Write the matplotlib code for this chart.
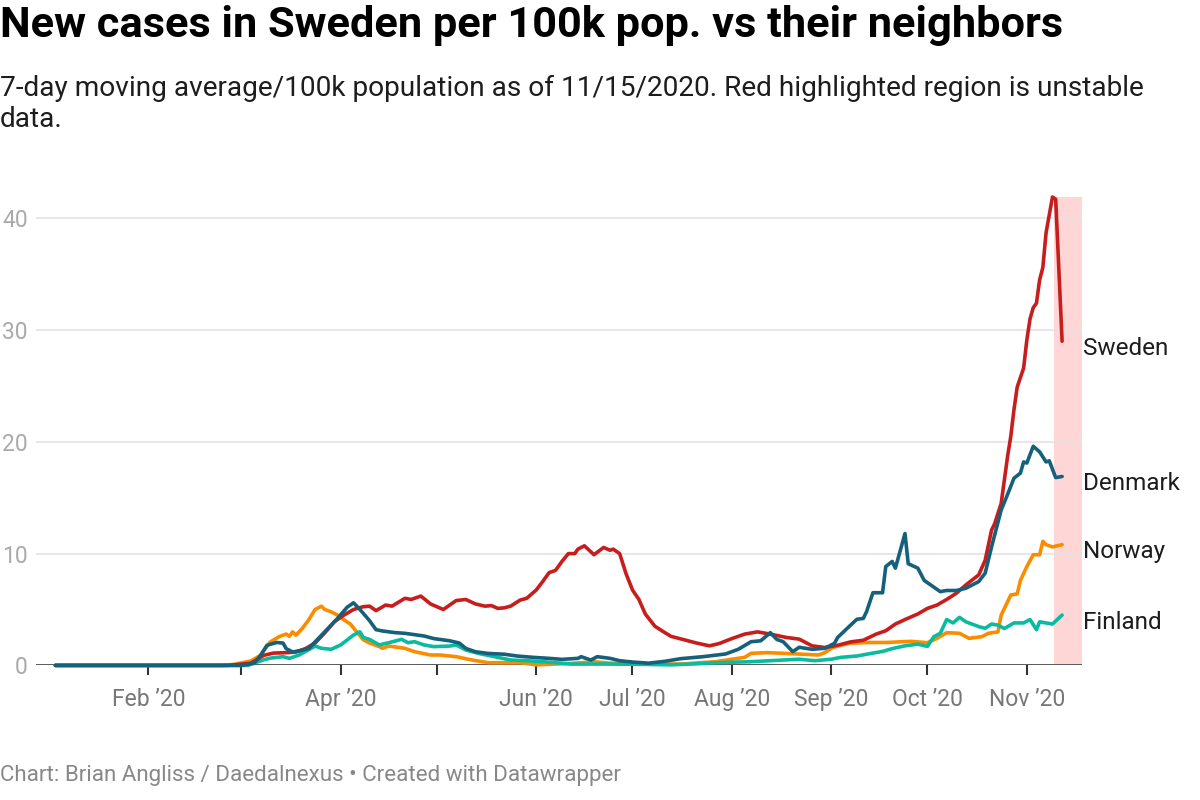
import matplotlib
matplotlib.use("Agg")
import matplotlib.pyplot as plt
import matplotlib.dates as mdates
import matplotlib.transforms as mtransforms
import pandas as pd

# ---------------- data (7-day avg new cases per 100k) ----------------
sweden_dates = ["2020-01-03","2020-02-26","2020-03-04","2020-03-08","2020-03-11","2020-03-16","2020-03-18","2020-03-21","2020-03-24","2020-03-27","2020-03-30","2020-04-02","2020-04-05","2020-04-08","2020-04-10","2020-04-12","2020-04-15","2020-04-17","2020-04-21","2020-04-23","2020-04-26","2020-04-29","2020-05-03","2020-05-07","2020-05-10","2020-05-13","2020-05-16","2020-05-18","2020-05-20","2020-05-22","2020-05-24","2020-05-27","2020-05-29","2020-06-01","2020-06-03","2020-06-05","2020-06-07","2020-06-09","2020-06-11","2020-06-13","2020-06-14","2020-06-16","2020-06-19","2020-06-22","2020-06-24","2020-06-25","2020-06-27","2020-06-29","2020-07-01","2020-07-03","2020-07-05","2020-07-08","2020-07-11","2020-07-13","2020-07-17","2020-07-21","2020-07-25","2020-07-28","2020-08-01","2020-08-05","2020-08-09","2020-08-13","2020-08-18","2020-08-22","2020-08-26","2020-08-30","2020-09-03","2020-09-07","2020-09-11","2020-09-15","2020-09-18","2020-09-21","2020-09-24","2020-09-28","2020-10-01","2020-10-04","2020-10-07","2020-10-10","2020-10-13","2020-10-17","2020-10-19","2020-10-21","2020-10-22","2020-10-24","2020-10-26","2020-10-27","2020-10-28","2020-10-29","2020-10-31","2020-11-01","2020-11-02","2020-11-03","2020-11-04","2020-11-05","2020-11-06","2020-11-07","2020-11-09","2020-11-10","2020-11-12"]
sweden_vals = [0,0,0.2,0.9,1.1,1.15,1.2,1.5,2.0,2.9,3.9,4.5,5.0,5.25,5.3,4.9,5.4,5.3,6.0,5.9,6.2,5.5,5.0,5.8,5.9,5.5,5.3,5.35,5.1,5.15,5.3,5.85,6.0,6.75,7.5,8.3,8.5,9.3,10.0,10.0,10.4,10.7,9.9,10.55,10.3,10.4,10.0,8.2,6.75,5.9,4.6,3.5,2.95,2.6,2.3,2.0,1.75,1.95,2.4,2.8,3.0,2.8,2.5,2.35,1.75,1.6,1.8,2.1,2.25,2.8,3.1,3.7,4.1,4.6,5.1,5.4,5.9,6.45,7.2,8.1,9.4,12.1,12.7,14.5,18.7,20.5,22.9,24.9,26.6,29.1,31.0,32.0,32.4,34.5,35.6,38.7,41.9,41.7,29.0]

denmark_dates = ["2020-01-03","2020-03-01","2020-03-05","2020-03-07","2020-03-09","2020-03-12","2020-03-14","2020-03-15","2020-03-17","2020-03-19","2020-03-22","2020-03-24","2020-03-27","2020-03-31","2020-04-03","2020-04-05","2020-04-07","2020-04-10","2020-04-12","2020-04-14","2020-04-18","2020-04-21","2020-04-27","2020-04-30","2020-05-05","2020-05-08","2020-05-10","2020-05-13","2020-05-17","2020-05-22","2020-05-26","2020-05-31","2020-06-05","2020-06-09","2020-06-14","2020-06-15","2020-06-18","2020-06-20","2020-06-24","2020-06-27","2020-07-01","2020-07-06","2020-07-11","2020-07-16","2020-07-23","2020-07-30","2020-08-03","2020-08-07","2020-08-10","2020-08-13","2020-08-15","2020-08-17","2020-08-20","2020-08-22","2020-08-26","2020-08-30","2020-09-02","2020-09-03","2020-09-06","2020-09-09","2020-09-11","2020-09-12","2020-09-14","2020-09-17","2020-09-18","2020-09-20","2020-09-21","2020-09-24","2020-09-25","2020-09-28","2020-09-30","2020-10-03","2020-10-05","2020-10-07","2020-10-10","2020-10-13","2020-10-17","2020-10-19","2020-10-21","2020-10-24","2020-10-26","2020-10-28","2020-10-30","2020-10-31","2020-11-01","2020-11-03","2020-11-05","2020-11-07","2020-11-08","2020-11-10","2020-11-12"]
denmark_vals = [0,0,0.2,0.9,1.8,2.05,2.0,1.5,1.2,1.3,1.5,2.1,3.0,4.2,5.2,5.6,5.0,4.0,3.2,3.08,2.93,2.87,2.63,2.4,2.2,2.0,1.52,1.22,1.07,1.0,0.84,0.72,0.63,0.54,0.63,0.78,0.48,0.78,0.63,0.42,0.3,0.2,0.36,0.6,0.78,1.02,1.44,2.12,2.2,2.93,2.33,2.12,1.23,1.62,1.44,1.53,1.97,2.5,3.32,4.13,4.2,4.8,6.5,6.5,8.84,9.3,8.7,11.8,9.1,8.7,7.6,7.0,6.6,6.7,6.7,6.9,7.5,8.25,10.6,13.9,15.3,16.75,17.2,18.2,18.1,19.6,19.1,18.2,18.3,16.8,16.9]

norway_dates = ["2020-01-03","2020-02-24","2020-02-28","2020-03-04","2020-03-07","2020-03-10","2020-03-13","2020-03-15","2020-03-16","2020-03-17","2020-03-18","2020-03-20","2020-03-22","2020-03-24","2020-03-26","2020-03-27","2020-03-29","2020-03-31","2020-04-02","2020-04-04","2020-04-06","2020-04-08","2020-04-10","2020-04-13","2020-04-14","2020-04-16","2020-04-21","2020-04-24","2020-04-29","2020-05-02","2020-05-07","2020-05-12","2020-05-17","2020-05-27","2020-06-01","2020-06-12","2020-06-19","2020-06-24","2020-07-03","2020-07-17","2020-07-22","2020-07-27","2020-08-01","2020-08-05","2020-08-07","2020-08-12","2020-08-17","2020-08-23","2020-08-28","2020-08-30","2020-09-01","2020-09-03","2020-09-07","2020-09-13","2020-09-18","2020-09-22","2020-09-26","2020-10-01","2020-10-04","2020-10-07","2020-10-11","2020-10-14","2020-10-18","2020-10-20","2020-10-23","2020-10-24","2020-10-25","2020-10-27","2020-10-29","2020-10-30","2020-11-01","2020-11-03","2020-11-05","2020-11-06","2020-11-07","2020-11-09","2020-11-12"]
norway_vals = [0,0,0.1,0.4,0.9,2.1,2.6,2.8,2.6,3.0,2.7,3.3,4.07,5.0,5.3,5.0,4.8,4.5,4.07,3.7,3.0,2.3,2.0,1.68,1.53,1.73,1.53,1.23,0.93,0.93,0.78,0.48,0.24,0.24,0.05,0.18,0.33,0.2,0.1,0.13,0.24,0.33,0.55,0.72,1.08,1.14,1.08,1.0,0.93,1.14,1.53,1.74,1.98,2.05,2.05,2.1,2.15,2.03,2.42,2.93,2.87,2.42,2.57,2.87,3.0,4.5,5.1,6.3,6.4,7.6,8.84,9.9,9.9,11.1,10.8,10.6,10.8]

finland_dates = ["2020-01-03","2020-03-03","2020-03-08","2020-03-10","2020-03-14","2020-03-16","2020-03-19","2020-03-22","2020-03-24","2020-03-26","2020-03-29","2020-04-01","2020-04-05","2020-04-07","2020-04-08","2020-04-10","2020-04-13","2020-04-16","2020-04-20","2020-04-22","2020-04-24","2020-04-27","2020-04-30","2020-05-05","2020-05-07","2020-05-10","2020-05-14","2020-05-19","2020-05-24","2020-05-29","2020-06-03","2020-06-12","2020-06-22","2020-07-03","2020-07-13","2020-07-20","2020-07-27","2020-08-07","2020-08-17","2020-08-22","2020-08-27","2020-09-01","2020-09-04","2020-09-09","2020-09-13","2020-09-17","2020-09-20","2020-09-24","2020-09-28","2020-10-01","2020-10-03","2020-10-05","2020-10-07","2020-10-09","2020-10-11","2020-10-13","2020-10-17","2020-10-19","2020-10-21","2020-10-23","2020-10-25","2020-10-28","2020-10-31","2020-11-02","2020-11-04","2020-11-05","2020-11-07","2020-11-09","2020-11-12"]
finland_vals = [0,0,0.5,0.65,0.78,0.63,0.93,1.4,1.73,1.53,1.44,1.83,2.72,3.0,2.5,2.33,1.83,2.03,2.33,2.03,2.12,1.83,1.68,1.73,1.83,1.38,1.07,0.78,0.48,0.42,0.33,0.12,0.12,0.1,0.05,0.13,0.24,0.33,0.48,0.55,0.42,0.55,0.72,0.84,1.05,1.25,1.5,1.75,1.9,1.7,2.57,2.87,4.1,3.8,4.3,3.9,3.47,3.32,3.7,3.6,3.3,3.8,3.8,4.1,3.2,3.9,3.8,3.7,4.5]

month_ticks = ["2020-02-01","2020-03-01","2020-04-01","2020-05-01","2020-06-01","2020-07-01","2020-08-01","2020-09-01","2020-10-01","2020-11-01"]
month_labels = ["Feb \u201920","","Apr \u201920","","Jun \u201920","Jul \u201920","Aug \u201920","Sep \u201920","Oct \u201920","Nov \u201920"]
y_ticks = [0, 10, 20, 30, 40]
unstable_start = "2020-11-09 12:00"
unstable_end = "2020-11-18 05:00"

# ---------------- style ----------------
plt.rcParams['font.family'] = ['Roboto', 'DejaVu Sans']
C_SWE, C_DEN, C_NOR, C_FIN = "#c71e1d", "#15607a", "#fa8c00", "#09bb9f"

fig = plt.figure(figsize=(12, 8), dpi=100)
fig.patch.set_facecolor("white")
ax = fig.add_axes([36/1200, (800-665.4)/800, (1082-36)/1200, (665.4-197)/800])

ax.axvspan(pd.Timestamp(unstable_start), pd.Timestamp(unstable_end),
           color="#ffd6d6", lw=0, zorder=0.5)

series = [
    ("Norway", norway_dates, norway_vals, C_NOR),
    ("Finland", finland_dates, finland_vals, C_FIN),
    ("Sweden", sweden_dates, sweden_vals, C_SWE),
    ("Denmark", denmark_dates, denmark_vals, C_DEN),
]
trans = mtransforms.blended_transform_factory(ax.transAxes, ax.transData)
for i, (name, d, v, c) in enumerate(series):
    x = pd.to_datetime(d)
    ax.plot(x, v, color=c, lw=2.6, solid_joinstyle="round",
            solid_capstyle="round", zorder=3 + i, clip_on=False)
    ax.text(1.0 + 1/1046, v[-1] - 0.65, name, transform=trans, ha="left",
            va="center", fontsize=17.5, color="#1d1d1d")

ax.set_xlim(pd.Timestamp("2019-12-27 23:00"), pd.Timestamp(unstable_end))
ax.set_ylim(0, 41.9)

for s in ["top", "right", "left", "bottom"]:
    ax.spines[s].set_visible(False)
ax.axhline(0, color="#333333", lw=1.8, zorder=2.5)

ax.set_yticks(y_ticks)
ax.set_yticklabels([str(t) for t in y_ticks])
ax.tick_params(axis="y", length=0, pad=6, labelsize=16.5, labelcolor="#aaaaaa")
ax.yaxis.grid(True, color="#e3e3e3", lw=1.2, zorder=1)
ax.set_axisbelow(True)

ax.set_xticks(pd.to_datetime(month_ticks))
ax.set_xticklabels(month_labels)
ax.tick_params(axis="x", length=7, width=1.5, color="#333333", pad=9,
               labelsize=16.5, labelcolor="#777777")

fig.text(0.0, 1 - 25/800, "New cases in Sweden per 100k pop. vs their neighbors",
         fontsize=31.2, fontweight="bold", color="#000000", va="center", ha="left")
fig.text(0.0, 1 - 104/800,
         "7-day moving average/100k population as of 11/15/2020. Red highlighted region is unstable\ndata.",
         fontsize=20.2, color="#1d1d1d", va="center", ha="left", linespacing=1.2)
fig.text(0.0, 1 - 776/800,
         "Chart: Brian Angliss / Daedalnexus \u2022 Created with Datawrapper",
         fontsize=16.1, color="#888888", va="center", ha="left")

fig.savefig("out.png", dpi=100, facecolor="white")
